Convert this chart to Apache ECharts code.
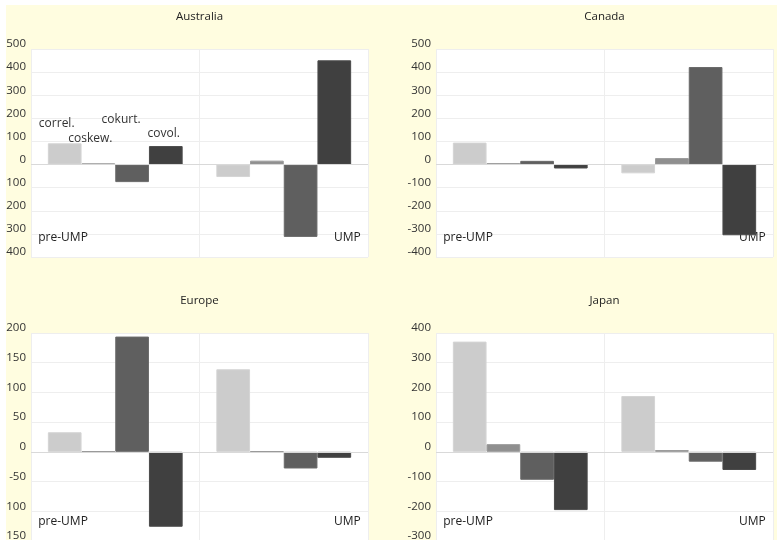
<!DOCTYPE html>
<html>
<head>
<meta charset="utf-8">
<script src="https://cdn.jsdelivr.net/npm/echarts@6/dist/echarts.min.js"></script>
<style>
  html, body { margin: 0; padding: 0; background: #ffffff; width: 777px; height: 540px; overflow: hidden; }
  #chart { position: absolute; left: 6px; top: 5px; width: 771px; height: 535px; background: #fffde0; }
</style>
</head>
<body>
<div id="chart"></div>
<script>
// Periods on the category axis and the four co-moment measures.
const periods = ['pre-UMP', 'UMP'];
const measures = ['correl.', 'coskew.', 'cokurt.', 'covol.'];

// Values per region: one row per measure, columns are [pre-UMP, UMP].
const australia = [[92, -54], [5, 17], [-76, -313], [80, 451]];
const canada    = [[95, -38], [6, 28], [16, 422], [-17, -306]];
const europe    = [[33, 139], [1, 1], [194, -28], [-126, -10]];
const japan     = [[371, 188], [26, 6], [-94, -33], [-196, -61]];

// Value-axis ticks per region: [min, max, step].
const australiaTicks = [-400, 500, 100];
const canadaTicks    = [-400, 500, 100];
const europeTicks    = [-150, 200, 50];
const japanTicks     = [-300, 400, 100];

const FONT = '"Open Sans", "DejaVu Sans", sans-serif';
const barColors  = ['#cccccc', '#8f8f8f', '#5f5f5f', '#404040'];
const barBorders = ['#d4d4d4', '#9a9a9a', '#6a6a6a', '#4a4a4a'];
// Offsets of the measure names above the first group of bars (Australia panel only).
const nameOffsets = [[-8, -9], [-8, -14], [-11, -34], [-2, -1]];

const panels = [
  { title: 'Australia', values: australia, ticks: australiaTicks, left: 25,  top: 44,  labelGap: 5, named: true },
  { title: 'Canada',    values: canada,    ticks: canadaTicks,    left: 430, top: 44,  labelGap: 5, named: false },
  { title: 'Europe',    values: europe,    ticks: europeTicks,    left: 25,  top: 328, labelGap: 5, named: false },
  { title: 'Japan',     values: japan,     ticks: japanTicks,     left: 430, top: 328, labelGap: 5, named: false }
];
const gridW = 337, gridH = 208;

const option = {
  animation: false,
  title: [], grid: [], xAxis: [], yAxis: [], series: []
};

panels.forEach((p, i) => {
  option.title.push({
    text: p.title,
    left: p.left + gridW / 2,
    top: p.top - 38,
    textAlign: 'center',
    padding: 0,
    textStyle: { fontFamily: FONT, fontSize: 11.5, fontWeight: 'normal', color: '#222222' }
  });
  option.grid.push({
    left: p.left, top: p.top, width: gridW, height: gridH,
    containLabel: false, outerBoundsMode: 'none',
    show: true, backgroundColor: '#ffffff', borderWidth: 0
  });
  option.xAxis.push({
    type: 'category', gridIndex: i, data: periods,
    axisLine: { show: false, onZero: false },
    axisTick: { show: false },
    splitLine: { show: true, lineStyle: { color: '#eeeeee', width: 1 } },
    axisLabel: {
      inside: true, interval: 0, margin: 19, verticalAlign: 'middle',
      formatter: (v, idx) => idx === 0 ? '{l|' + v + '}' : '{r|' + v + '}',
      rich: {
        l: { width: 154, align: 'left',  fontFamily: FONT, fontSize: 12, color: '#222222' },
        r: { width: 154, align: 'right', fontFamily: FONT, fontSize: 12, color: '#222222' }
      }
    }
  });
  option.yAxis.push({
    type: 'value', gridIndex: i,
    min: p.ticks[0], max: p.ticks[1], interval: p.ticks[2],
    axisLine: { show: false }, axisTick: { show: false },
    splitLine: { lineStyle: { color: '#eeeeee', width: 1 } },
    axisLabel: {
      margin: p.labelGap, color: '#333333', fontFamily: FONT, fontSize: 11.5,
      verticalAlign: 'bottom', lineHeight: 10, hideOverlap: false
    }
  });
  measures.forEach((m, j) => {
    const s = {
      type: 'bar', name: m, xAxisIndex: i, yAxisIndex: i,
      barGap: '0%', barCategoryGap: '20%',
      itemStyle: { color: barColors[j], borderColor: barBorders[j], borderWidth: 1 },
      data: p.values[j].map((v, k) => (p.named && k === 0) ? {
        value: v,
        label: {
          show: true, position: 'top', distance: 5, offset: nameOffsets[j],
          formatter: m, fontFamily: FONT, fontSize: 12, color: '#333333'
        }
      } : v)
    };
    if (j === 0) {
      s.markLine = {
        silent: true, symbol: 'none', label: { show: false },
        lineStyle: { color: '#d9d9d9', type: 'solid', width: 1 },
        data: [{ yAxis: 0 }]
      };
    }
    option.series.push(s);
  });
});

const chart = echarts.init(document.getElementById('chart'), null, { renderer: 'canvas' });
chart.setOption(option);
</script>
</body>
</html>
